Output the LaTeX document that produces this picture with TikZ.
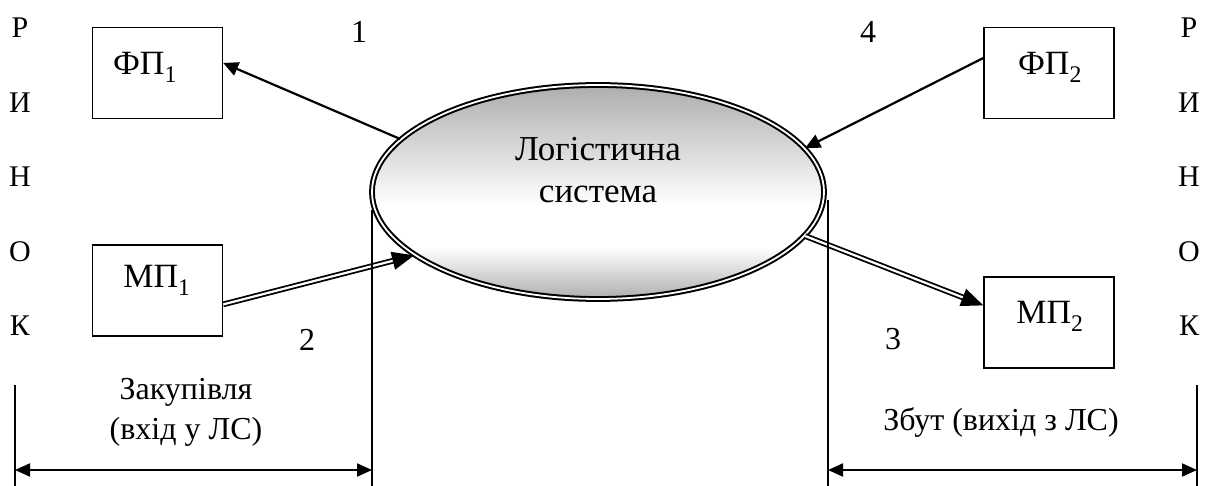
\documentclass[tikz,border=0pt]{standalone}
\usepackage{fontspec}
\setmainfont{Liberation Serif}
\usetikzlibrary{arrows.meta,shapes.geometric,positioning}

\definecolor{lsgray}{gray}{0.68}
\pgfdeclareverticalshading{lsfill}{100bp}{color(0bp)=(lsgray); color(25bp)=(lsgray); color(37bp)=(white); color(47bp)=(white); color(75bp)=(lsgray); color(100bp)=(lsgray)}

\begin{document}
\begin{tikzpicture}[x=1pt,y=-1pt,
        box/.style={draw,line width=1.4pt,minimum width=130pt,minimum height=91pt,inner sep=0pt},
        boxtext/.style={font=\fontsize{34}{40}\selectfont,anchor=base,inner sep=0pt},
        lstext/.style={font=\fontsize{35}{42}\selectfont,align=center,inner sep=0pt},
        note/.style={font=\fontsize{32}{40}\selectfont,align=center,inner sep=0pt},
        mktletter/.style={font=\fontsize{30}{34}\selectfont,inner sep=0pt},
        num/.style={font=\fontsize{32}{37}\selectfont,inner sep=0pt},
        flow/.style={line width=2.2pt,-{Triangle[length=15pt,width=14pt]}},
        matflow/.style={line width=1.8pt,double,double distance=2.2pt,-{Triangle[length=22pt,width=18pt]}},
        span/.style={line width=2pt,{Triangle[length=15pt,width=13pt]}-{Triangle[length=15pt,width=13pt]}},
        border/.style={line width=1.6pt}]
        \useasboundingbox (0,0) rectangle (1208,486);

        % ринок
        \node[mktletter] (mkt l0) at (20,28) {Р};
        \node[mktletter] (mkt l1) at (20,103) {И};
        \node[mktletter] (mkt l2) at (20,177) {Н};
        \node[mktletter] (mkt l3) at (20,252) {О};
        \node[mktletter] (mkt l4) at (20,326) {К};
        \node[mktletter] (mkt r0) at (1189,28) {Р};
        \node[mktletter] (mkt r1) at (1189,103) {И};
        \node[mktletter] (mkt r2) at (1189,177) {Н};
        \node[mktletter] (mkt r3) at (1189,252) {О};
        \node[mktletter] (mkt r4) at (1189,326) {К};

        \node[box] (fp1) at (157.5,73) {};
        \node[box] (mp1) [below=125pt of fp1] {};
        \node[box] (fp2) at (1049,73) {};
        \node[box] (mp2) [below=157pt of fp2] {};
        \node[boxtext] (fp1 text) at (145,75) {ФП\textsubscript{1}};
        \node[boxtext] (mp1 text) at (157,288) {МП\textsubscript{1}};
        \node[boxtext] (fp2 text) at (1050,75) {ФП\textsubscript{2}};
        \node[boxtext] (mp2 text) at (1050,324) {МП\textsubscript{2}};

        \node[ellipse,draw,line width=2pt,double,double distance=1.8pt,shading=lsfill,
                minimum width=452pt,minimum height=214pt,inner sep=0pt] (ls) at (598,192) {};
        \node[lstext] (ls text) at ([yshift=22pt]ls.center) {Логістична\\система};

        \node[num] (n1) at (359,32) {1};
        \node[num] (n2) at (307,340) {2};
        \node[num] (n3) at (893,339) {3};
        \node[num] (n4) at (868,32) {4};

        \draw[flow] (ls.165.8) -- ([yshift=10pt]fp1.east);
        \draw[flow] ([yshift=15pt]fp2.west) -- (ls.12.2);
        \draw[matflow] ([yshift=-14pt]mp1.east) -- (ls.199.2);
        \draw[matflow] (ls.-12.6) -- ([yshift=17pt]mp2.west);

        % межі закупівлі та збуту
        \coordinate (buy top) at (372,210);
        \coordinate (buy bot) at (372,486);
        \coordinate (sell top) at (828,200);
        \coordinate (sell bot) at (828,486);
        \coordinate (mkt l top) at (15,385);
        \coordinate (mkt l bot) at (15,486);
        \coordinate (mkt r top) at (1197,385);
        \coordinate (mkt r bot) at (1197,486);
        \draw[border] (buy top) -- (buy bot);
        \draw[border] (sell top) -- (sell bot);
        \draw[border] (mkt l top) -- (mkt l bot);
        \draw[border] (mkt r top) -- (mkt r bot);

        \coordinate (buy l) at (15,470);
        \coordinate (buy r) at (372,470);
        \coordinate (sell l) at (828,470);
        \coordinate (sell r) at (1197,470);
        \draw[span] (buy l) -- (buy r);
        \draw[span] (sell l) -- (sell r);

        \node[note] (buy text) at (186,412) {Закупівля\\(вхід у ЛС)};
        \node[note,anchor=base] (sell text) at (1001,430) {Збут (вихід з ЛС)};
\end{tikzpicture}
\end{document}
